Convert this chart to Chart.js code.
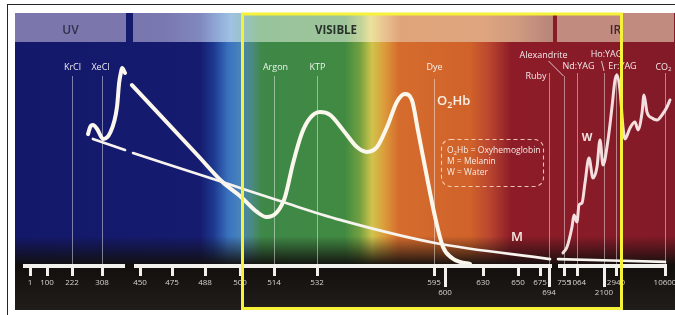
<!DOCTYPE html>
<html><head><meta charset="utf-8">
<script src="https://cdn.jsdelivr.net/npm/chart.js@4.4.1/dist/chart.umd.min.js"></script>
<style>html,body{margin:0;padding:0;background:#fff;}#wrap{position:relative;width:675px;height:315px;}</style>
</head><body><div id="wrap"><canvas id="c" width="675" height="315"></canvas></div>
<script>
// ---------------- data (wavelengths in nm, absorption in relative units 0-100) ----------------
const tickWavelengths = [1,100,222,308,450,475,488,500,514,532,595,600,630,650,675,694,755,1064,2100,2940,10600];
const lowTicks = [600,694,2100];
const bandNames = ['UV','VISIBLE','IR'];
const bandStart = [-90, 424, 728];
const bandEnd = [398, 710, 12000];
const laserNames = ['KrCl','XeCl','Argon','KTP','Dye','Ruby','Alexandrite','Nd:YAG','Ho:YAG','Er:YAG','CO2'];
const laserWavelengths = [222,308,514,532,595,694,755,1064,2100,2940,10600];

const o2hbWavelengths = [268,274,282,294,312,338,364,372,379,383,394,407,420,485,494,500,507,511,515.3,518.6,522,525.7,529.1,533.6,539,546,553.5,558.9,564.3,569.7,575,579.3,583.1,586.3,591.2,595.5,599.1,605.5,611.8,619.7];
const o2hbAbsorption  = [59.5,62.7,63.6,61.8,57.3,60,71.8,82.7,87.7,89.5,87.3,null,81.8,50,37.7,31.4,24.1,21.8,24.1,30.9,46.4,60,66.8,69.5,68.2,61.4,53.6,51.4,53.6,62.7,74.1,77.7,75,61.4,40,21.8,8.2,3.2,1.4,0.5];

const melaninWavelengths = [282,394,408,424,494,517.8,544.4,595.5,698,712,731,10600];
const melaninAbsorption  = [57.3,52.3,null,50.9,37.7,28.6,20.5,10,2.7,null,2.7,1.4];

const waterWavelengths = [751,826,945,993,1064,1141,1256,1371,1524,1678,1831,1947,2062,2380,2660,2870,3096,3565,4034,4347,5128,5910,6379,7004,7317,7786,8567,9349,10131,10912,11381];
const waterAbsorption  = [5.5,8.2,17.3,22.7,19.5,27.3,28.2,37.3,48.6,39.5,44.5,56.8,45.5,56.8,71.8,84.1,86.4,79.5,62.7,57.3,62.3,65,61.4,69.1,77.3,69.5,66.8,65.9,68.2,71.8,75];

// ---------------- schematic (piecewise) wavelength axis ----------------
const axisStops = [15,32,57,87,125,157,190,225,259,302,419,430,468,503,525,534,549,562,589,601,650]; // position of each tick along the axis, in 1/660ths
const AXIS_UNITS = 660;
function wlToUnit(w){
  const W = tickWavelengths, S = axisStops, n = W.length;
  let i = 0;
  if (w <= W[0]) i = 0; else if (w >= W[n-1]) i = n-2; else { while (w > W[i+1]) i++; }
  return S[i] + (w - W[i]) * (S[i+1]-S[i]) / (W[i+1]-W[i]);
}
function unitToWl(u){
  const W = tickWavelengths, S = axisStops, n = S.length;
  let i = 0;
  if (u <= S[0]) i = 0; else if (u >= S[n-1]) i = n-2; else { while (u > S[i+1]) i++; }
  return W[i] + (u - S[i]) * (W[i+1]-W[i]) / (S[i+1]-S[i]);
}
class SchematicScale extends Chart.LinearScale {
  static id = 'schematic';
  buildTicks(){ return tickWavelengths.map(v => ({value: v})); }
  getPixelForValue(v){ return this.left + wlToUnit(v) / AXIS_UNITS * this.width; }
  getValueForPixel(p){ return unitToWl((p - this.left) / this.width * AXIS_UNITS); }
}
Chart.register(SchematicScale);

// ---------------- helpers ----------------
const FONT = '"Open Sans", "Liberation Sans", sans-serif';
function richParts(s){
  const parts = []; let buf = '';
  for (let i = 0; i < s.length; i++){
    const ch = s[i];
    if (/\d/.test(ch) && i > 0 && /[A-Za-z]/.test(s[i-1])) { if (buf) parts.push({t: buf}); buf = ''; parts.push({t: ch, sub: true}); }
    else buf += ch;
  }
  if (buf) parts.push({t: buf});
  return parts;
}
function drawRich(ctx, s, x, y, size, weight, align, color){
  const parts = richParts(s);
  const f = sub => `${weight} ${sub ? Math.round(size*0.68) : size}px ${FONT}`;
  let w = 0;
  parts.forEach(p => { ctx.font = f(p.sub); p.w = ctx.measureText(p.t).width; w += p.w; });
  let cx = align === 'center' ? x - w/2 : align === 'right' ? x - w : x;
  ctx.textBaseline = 'middle'; ctx.textAlign = 'left'; ctx.fillStyle = color;
  parts.forEach(p => { ctx.font = f(p.sub); ctx.fillText(p.t, cx, p.sub ? y + size*0.3 : y); cx += p.w; });
}
const clamp01 = v => Math.max(0, Math.min(1, v));
function hGradient(ctx, xs, ca, stops){
  const g = ctx.createLinearGradient(ca.left, 0, ca.right, 0);
  stops.forEach(([w, c]) => g.addColorStop(clamp01((xs.getPixelForValue(w) - ca.left) / ca.width), c));
  return g;
}

// ---------------- background plugin ----------------
const backgroundPlugin = {
  id: 'spectrumBackground',
  beforeDraw(chart){
    const {ctx, chartArea: ca} = chart;
    const xs = chart.scales.x;
    const W = chart.width;
    ctx.save();
    ctx.fillStyle = '#ffffff'; ctx.fillRect(0, 0, W, chart.height);
    ctx.fillStyle = '#262626'; ctx.fillRect(7, 4, W-7, 1); ctx.fillRect(7, 4, 1, chart.height-4);

    // spectrum body
    ctx.fillStyle = hGradient(ctx, xs, ca, [
      [-90,'#13186a'],[486,'#151b6f'],[491,'#1d3990'],[496,'#3a72bf'],[500,'#4784ba'],[505,'#4a8a7e'],
      [509,'#3e8848'],[547,'#418a42'],[555,'#72a040'],[561.6,'#d0c44c'],[568.6,'#dc9a3a'],[576,'#d56c2d'],
      [620,'#d0622a'],[634,'#b9452f'],[646,'#8d1c28'],[12000,'#821a27']
    ]);
    ctx.fillRect(15, 13, W-15, 297);
    // fade to black at the bottom
    const fg = ctx.createLinearGradient(0, 236, 0, 266);
    fg.addColorStop(0, 'rgba(18,15,13,0)'); fg.addColorStop(1, 'rgba(18,15,13,1)');
    ctx.fillStyle = fg; ctx.fillRect(15, 236, W-15, 30);
    const fb = ctx.createLinearGradient(0, 266, 0, 310);
    fb.addColorStop(0, '#120f0d'); fb.addColorStop(1, '#211d1a');
    ctx.fillStyle = fb; ctx.fillRect(15, 266, W-15, 44);

    // header bands
    const headerFill = [
      '#7b77ad',
      hGradient(ctx, xs, ca, [[424,'#7976ae'],[470,'#7a78b0'],[486,'#8088bd'],[492,'#8fa8d6'],[497,'#9fc2e2'],[502,'#98c2c0'],
        [508,'#98c49c'],[547,'#9ec49a'],[556,'#c4d49a'],[561,'#ece29c'],[569,'#e8c08e'],[577,'#e0a47a'],[630,'#dea57e'],
        [650,'#cf9a80'],[680,'#bf8a7c'],[710,'#b8847a']]),
      '#c18b80'
    ];
    const headerText = ['#302e4a', '#28322a', '#46262a'];
    bandNames.forEach((name, i) => {
      const x0 = Math.max(15, Math.round(xs.getPixelForValue(bandStart[i])));
      const x1 = Math.min(W, Math.round(xs.getPixelForValue(bandEnd[i])));
      ctx.fillStyle = headerFill[i];
      ctx.fillRect(x0, 13, x1 - x0, 29);
      const cx = (x0 + x1) / 2 - (i === 1 ? 7 : 0);
      drawRich(ctx, name, cx, 31, i === 1 ? 11.5 : 12, i === 1 ? 700 : 600, 'center', headerText[i]);
    });

    // laser lines and labels
    const place = {
      'XeCl': {dx:-2}, 'Argon': {dx:1}, 'Dye': {top:79},
      'Ruby': {dx:-3, y:76, align:'right', top:73},
      'Alexandrite': {dx:-21, y:55, leader:[-16,61,-1,76]},
      'Nd:YAG': {dx:1, y:66, top:73},
      'Ho:YAG': {dx:2, y:54, leader:[-3,61,-0.5,71], top:73},
      'Er:YAG': {dx:6, y:66, top:73},
      'CO2': {dx:-2, y:67, top:73}
    };
    ctx.lineWidth = 1;
    laserWavelengths.forEach((w, i) => {
      const name = laserNames[i];
      const p = Object.assign({dx:0, y:67, align:'center', top:76}, place[name] || {});
      const x = Math.round(xs.getPixelForValue(w)) + 0.5;
      ctx.strokeStyle = 'rgba(255,255,255,0.45)';
      ctx.beginPath(); ctx.moveTo(x, p.top); ctx.lineTo(x, ca.bottom); ctx.stroke();
      drawRich(ctx, name, x + p.dx, p.y, 9, 500, p.align, 'rgba(255,255,255,0.9)');
      if (p.leader){
        ctx.strokeStyle = 'rgba(255,255,255,0.75)';
        ctx.beginPath(); ctx.moveTo(x + p.leader[0], p.leader[1]); ctx.lineTo(x + p.leader[2], p.leader[3]); ctx.stroke();
      }
    });
    ctx.restore();
  }
};

// ---------------- axis bar + annotations ----------------
const overlayPlugin = {
  id: 'spectrumOverlay',
  afterDatasetsDraw(chart){
    const {ctx, chartArea: ca} = chart;
    const xs = chart.scales.x;
    ctx.save();
    ctx.fillStyle = '#f3f1ec';
    const firstX = xs.getPixelForValue(tickWavelengths[0]) - 7;
    const lastX = xs.getPixelForValue(tickWavelengths[tickWavelengths.length-1]) + 2;
    bandNames.forEach((n, i) => {
      const x0 = i === 0 ? firstX : Math.round(xs.getPixelForValue(bandStart[i])) + 1;
      const x1 = i === bandNames.length-1 ? lastX : Math.round(xs.getPixelForValue(bandEnd[i])) - 1;
      ctx.fillRect(x0, ca.bottom - 1, x1 - x0, 4);
    });
    tickWavelengths.forEach(w => {
      const x = xs.getPixelForValue(w);
      const len = lowTicks.includes(w) ? 20 : 9;
      ctx.fillRect(Math.round(x) - 1, ca.bottom + 2, 3, len);
    });
    ctx.restore();
  },
  afterDraw(chart){
    const {ctx} = chart;
    const xs = chart.scales.x, ys = chart.scales.y;
    ctx.save();
    drawRich(ctx, 'O2Hb', xs.getPixelForValue(595) + 3, ys.getPixelForValue(74.5), 13, 600, 'left', '#f8efe6');
    drawRich(ctx, 'M', xs.getPixelForValue(650) - 1, ys.getPixelForValue(12.7), 13, 600, 'center', '#f6ece6');
    drawRich(ctx, 'W', xs.getPixelForValue(1448), ys.getPixelForValue(57.7), 11, 700, 'center', '#f3e2e0');
    // legend box
    ctx.strokeStyle = 'rgba(255,222,200,0.85)'; ctx.lineWidth = 1.1; ctx.setLineDash([4, 3]);
    ctx.beginPath(); ctx.roundRect(441.5, 139.5, 102, 47, 9); ctx.stroke();
    ctx.setLineDash([]);
    drawRich(ctx, 'O2Hb = Oxyhemoglobin', 447, 151, 8.5, 500, 'left', '#f7eae2');
    drawRich(ctx, 'M = Melanin', 447, 162, 8.5, 500, 'left', '#f7eae2');
    drawRich(ctx, 'W = Water', 447, 173, 8.5, 500, 'left', '#f7eae2');
    // visible range highlight
    ctx.strokeStyle = '#f6f23a'; ctx.lineWidth = 3;
    ctx.strokeRect(242.5, 14, 379, 294.5);
    ctx.restore();
  }
};

const pts = (ws, vs) => ws.map((w, i) => ({x: w, y: vs[i]}));

new Chart(document.getElementById('c'), {
  type: 'line',
  data: {
    datasets: [
      {label: 'Water', data: pts(waterWavelengths, waterAbsorption), borderColor: 'rgba(250,232,232,0.95)', borderWidth: 3},
      {label: 'Water core', data: pts(waterWavelengths, waterAbsorption), borderColor: 'rgba(170,70,80,0.45)', borderWidth: 1},
      {label: 'Melanin', data: pts(melaninWavelengths, melaninAbsorption), borderColor: '#f7f3ee', borderWidth: 2.7},
      {label: 'O2Hb', data: pts(o2hbWavelengths, o2hbAbsorption), borderColor: '#fbf7ec', borderWidth: 4}
    ]
  },
  options: {
    responsive: false, animation: false, devicePixelRatio: 1,
    layout: {padding: {left: 15, right: 0, top: 45, bottom: 5}},
    plugins: {legend: {display: false}, tooltip: {enabled: false}},
    elements: {
      point: {radius: 0, hoverRadius: 0},
      line: {cubicInterpolationMode: 'monotone', borderCapStyle: 'round', borderJoinStyle: 'round', fill: false}
    },
    scales: {
      x: {
        type: 'schematic', min: -90, max: 11600,
        grid: {display: false, drawTicks: false}, border: {display: false},
        ticks: {
          autoSkip: false, maxRotation: 0, minRotation: 0, padding: 13,
          color: '#d6d2cd', font: {family: 'Open Sans', size: 8},
          callback: v => lowTicks.includes(v) ? ['', String(v)] : String(v)
        },
        afterFit: s => { s.height = 45; s.paddingLeft = 0; s.paddingRight = 0; }
      },
      y: {display: false, min: 0, max: 100}
    }
  },
  plugins: [backgroundPlugin, overlayPlugin]
});
</script></body></html>
